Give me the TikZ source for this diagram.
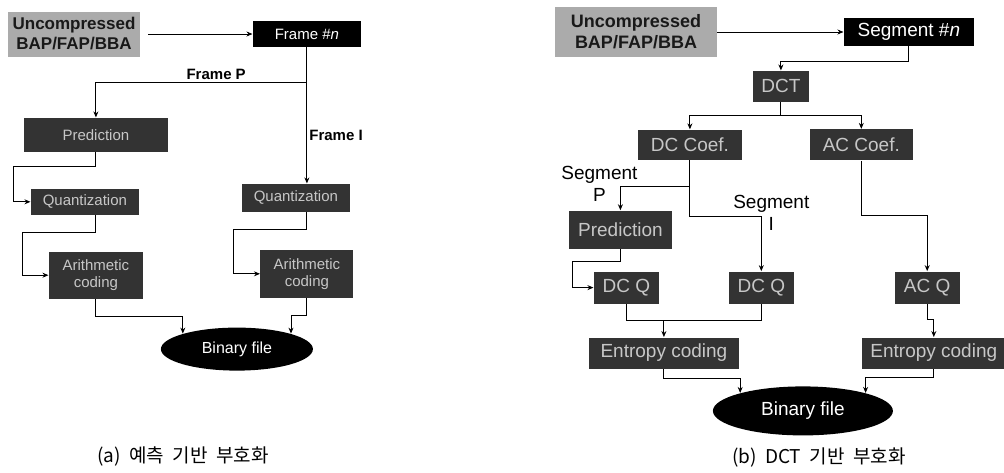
\documentclass[tikz,border=0pt]{standalone}
\usepackage{fontspec}
\setmainfont{Liberation Sans}
\newfontfamily\krfont[WordSpace=2]{Noto Sans CJK KR}
\usepackage{tikz}
\usetikzlibrary{arrows.meta,positioning,shapes.geometric}

\begin{document}
\begin{tikzpicture}[
x=1pt,y=-1pt,
line width=.9pt,
darkbox/.style={fill=black!80,text=black!22,inner sep=0pt,align=center},
rawbox/.style={fill=black!33,text=black!90,inner sep=0pt,align=center},
headbox/.style={fill=black,text=white,inner sep=0pt},
filebox/.style={ellipse,fill=black,text=white,inner sep=0pt},
sizeA/.style={font=\fontsize{15}{17}\selectfont},
sizeB/.style={font=\fontsize{19}{22}\selectfont},
lbl/.style={inner sep=2pt,align=center},
arrow/.style={-{Stealth[length=6pt,width=5pt]}}
]
\useasboundingbox (0,0) rectangle (1004,472);

% (a) prediction based
\node[rawbox,font=\fontsize{17}{20}\selectfont\bfseries,minimum width=132pt,minimum height=45pt] (unc1) at (74,34) {Uncompressed\\BAP/FAP/BBA};
\node[headbox,font=\fontsize{15}{18}\selectfont,minimum width=108pt,minimum height=26pt,right=112pt of unc1] (frame) {Frame \#\textit{n}};

\node[darkbox,sizeA,minimum width=144pt,minimum height=34pt,below=70pt of frame,xshift=-211pt] (pred1) {Prediction};
\node[darkbox,sizeA,minimum width=108pt,minimum height=26pt,below=36pt of pred1,xshift=-11pt] (quant1) {Quantization};
\node[darkbox,sizeA,minimum width=94pt,minimum height=47pt,below=36pt of quant1,xshift=11pt] (arith1) {Arithmetic\\coding};

\node[darkbox,sizeA,minimum width=108pt,minimum height=28pt,below=136pt of frame,xshift=-11pt] (quant2) {Quantization};
\node[darkbox,sizeA,minimum width=93pt,minimum height=48pt,below=37pt of quant2,xshift=11pt] (arith2) {Arithmetic\\coding};

\node[filebox,font=\fontsize{16}{19}\selectfont,minimum width=152pt,minimum height=43pt,below=28pt of arith1,xshift=141pt] (bin1) {Binary file};
\node[font=\fontsize{19}{22}\selectfont\krfont,below=72pt of bin1,xshift=-54pt] (capA) {(a) 예측 기반 부호화};

\draw[arrow,shorten <=8pt] (unc1.east) -- (frame.west);
\draw[arrow] (frame.south) -- ++(0,35) coordinate (fp) -- node[lbl,above,pos=.43,font=\fontsize{15}{18}\selectfont\bfseries] {Frame P} (fp -| pred1.north) -- (pred1.north);
\draw[arrow] (frame.south) -- node[lbl,right,pos=.65,font=\fontsize{15}{18}\selectfont\bfseries] {Frame I} (frame.south |- quant2.north);
\draw[arrow] (pred1.south) -- ++(0,14) -| ([xshift=-17pt]quant1.west) -- (quant1.west);
\draw[arrow] (quant1.south -| pred1.south) -- ++(0,17) -| ([xshift=-26pt]arith1.west) -- (arith1.west);
\draw[arrow] (quant2.south -| frame.south) -- ++(0,17) -| ([xshift=-27pt]arith2.west) -- (arith2.west);
\draw[arrow] (arith1.south) -- ++(0,17) -| (bin1.164);
\draw[arrow] (arith2.south) -- ++(0,17) -| (bin1.16);

% (b) DCT based
\node[rawbox,font=\fontsize{18}{21}\selectfont\bfseries,minimum width=162pt,minimum height=50pt] (unc2) at (636,32) {Uncompressed\\BAP/FAP/BBA};
\node[headbox,font=\fontsize{19}{22}\selectfont,minimum width=130pt,minimum height=28pt,right=126pt of unc2] (seg) {Segment \#\textit{n}};
\node[darkbox,sizeB,minimum width=56pt,minimum height=31pt,below=24pt of seg,xshift=-128pt] (dct) {DCT};
\node[darkbox,sizeB,minimum width=104pt,minimum height=30pt,below=27pt of dct,xshift=-91pt] (dcc) {DC Coef.};
\node[darkbox,sizeB,minimum width=103pt,minimum height=31pt,right=67pt of dcc] (acc) {AC Coef.};
\node[darkbox,sizeB,minimum width=103pt,minimum height=38pt,below=50pt of dcc,xshift=-69.5pt] (pred2) {Prediction};
\node[darkbox,sizeB,minimum width=65pt,minimum height=32pt,below=22pt of pred2,xshift=6pt] (dcq1) {DC Q};
\node[darkbox,sizeB,minimum width=65pt,minimum height=32pt,right=69pt of dcq1] (dcq2) {DC Q};
\node[darkbox,sizeB,minimum width=65pt,minimum height=32pt,right=100pt of dcq2] (acq) {AC Q};
\node[darkbox,sizeB,minimum width=150pt,minimum height=31pt,below=33pt of dcq1,xshift=37.5pt] (ent1) {Entropy coding};
\node[darkbox,sizeB,minimum width=144pt,minimum height=31pt,right=122pt of ent1] (ent2) {Entropy coding};
\node[filebox,font=\fontsize{19}{22}\selectfont,minimum width=180pt,minimum height=49pt,below=17pt of ent1,xshift=139pt] (bin2) {Binary file};
\node[font=\fontsize{19}{22}\selectfont\krfont,below=8pt of bin2,xshift=16pt] (capB) {(b) DCT 기반 부호화};

\node[lbl,sizeB,above=6pt of pred2,xshift=-21pt] (lblP) {Segment\\P};
\node[lbl,sizeB,above=38pt of dcq2,xshift=10pt] (lblI) {Segment\\I};

\draw[arrow] (unc2.east) -- (seg.west);
\draw[arrow] (seg.south) -- ++(0,15) -| (dct.north);
\draw[arrow] (dct.south) -- ++(0,13) -| (dcc.north);
\draw[arrow] (dct.south) -- ++(0,13) -| (acc.north);
\draw[arrow] (dcc.south) -- ++(0,26) -| (pred2.north);
\draw[arrow] (dcc.south) -- ++(0,56) -| (dcq2.north);
\draw[arrow] (acc.south) -- ++(0,55) -| (acq.north);
\draw[arrow] (pred2.south) -- ++(0,12) -| ([xshift=-21pt]dcq1.west) -- (dcq1.west);
\draw (dcq1.south) -- ++(0,16) coordinate (jn) -| (dcq2.south);
\draw[arrow] (jn -| ent1.north) -- (ent1.north);
\draw[arrow] (acq.south) -- ++(0,15) -| (ent2.north);
\draw[arrow] (ent1.south) -- ++(0,9) -| (bin2.164);
\draw[arrow] (ent2.south) -- ++(0,8) -| (bin2.16);
\end{tikzpicture}
\end{document}
